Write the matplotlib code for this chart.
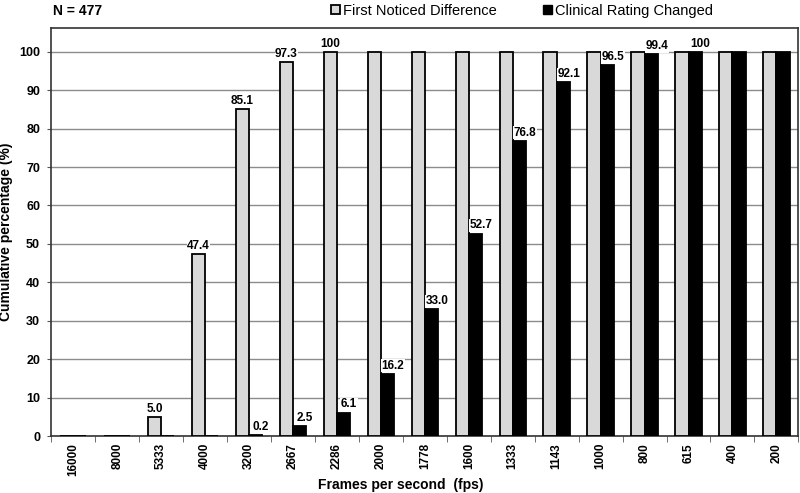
import numpy as np
import matplotlib.pyplot as plt
from matplotlib.patches import Patch

plt.rcParams['font.family'] = ['Liberation Sans', 'DejaVu Sans']

fps = ["16000", "8000", "5333", "4000", "3200", "2667", "2286", "2000", "1778",
       "1600", "1333", "1143", "1000", "800", "615", "400", "200"]
first_noticed = [0, 0, 5.0, 47.4, 85.1, 97.3, 100, 100, 100, 100, 100, 100, 100, 100, 100, 100, 100]
rating_changed = [0, 0, 0, 0, 0.2, 2.5, 6.1, 16.2, 33.0, 52.7, 76.8, 92.1, 96.5, 99.4, 100, 100, 100]

gray = "#d9d9d9"
w = 0.3
x = np.arange(len(fps))

fig = plt.figure(figsize=(8, 4.93), dpi=100)
ax = fig.add_axes([0.064, 0.1156, 0.934, 0.8276])

ax.bar(x - w / 2, first_noticed, w, color=gray, edgecolor="black", linewidth=1.3, zorder=3)
ax.bar(x + w / 2, rating_changed, w, color="black", edgecolor="black", linewidth=1.3, zorder=3)


def fmt(v):
    return "100" if v == 100 else f"{v:.1f}"


# label each series until it first reaches 100
for vals, off, dx in [(first_noticed, -w / 2, 0), (rating_changed, w / 2, 4)]:
    for i, v in enumerate(vals):
        prev = vals[i - 1] if i > 0 else 0
        if v > 0 and prev < 100:
            ax.annotate(fmt(v), (i + off, v), xytext=(dx, 1.5), textcoords="offset points",
                        ha="center", va="bottom", fontsize=8.5, fontweight="bold", zorder=5,
                        bbox=dict(facecolor="white", edgecolor="none", pad=0.3))

ax.set_xlim(-0.5, len(fps) - 0.5)
ax.set_ylim(0, 106.2)
ax.set_yticks(range(0, 101, 10))
ax.yaxis.grid(True, color="#8c8c8c", linewidth=1)
ax.set_axisbelow(True)

ax.set_xticks(x)
ax.set_xticklabels(fps, rotation=90, fontsize=8.5, fontweight="bold")
ax.set_xticks(np.arange(-0.5, len(fps), 1), minor=True)
ax.tick_params(axis="x", which="major", length=0, pad=5)
ax.tick_params(axis="x", which="minor", length=4, direction="out", color="#555555")
ax.tick_params(axis="y", labelsize=9, length=3, pad=5, color="#555555")
for lab in ax.get_yticklabels():
    lab.set_fontweight("bold")

for s in ax.spines.values():
    s.set_color("#333333")
    s.set_linewidth(1.2)

ax.set_xlabel("Frames per second  (fps)", fontsize=10, fontweight="bold")
ax.xaxis.set_label_coords(0.468, -0.103)
ax.set_ylabel("Cumulative percentage (%)", fontsize=10, fontweight="bold")
ax.yaxis.set_label_coords(-0.051, 0.5)

fig.text(0.066, 0.978, "N = 477", fontsize=10, fontweight="bold", va="center")
handles = [Patch(facecolor=gray, edgecolor="black", linewidth=1.3),
           Patch(facecolor="black", edgecolor="black")]
fig.legend(handles, ["First Noticed Difference", "Clinical Rating Changed"],
           loc="center left", bbox_to_anchor=(0.405, 0.978), ncol=2, frameon=False,
           fontsize=10.5, handlelength=0.6, handleheight=0.6, handletextpad=0.2,
           columnspacing=3.2, borderpad=0)

fig.savefig("out.png", dpi=100)
